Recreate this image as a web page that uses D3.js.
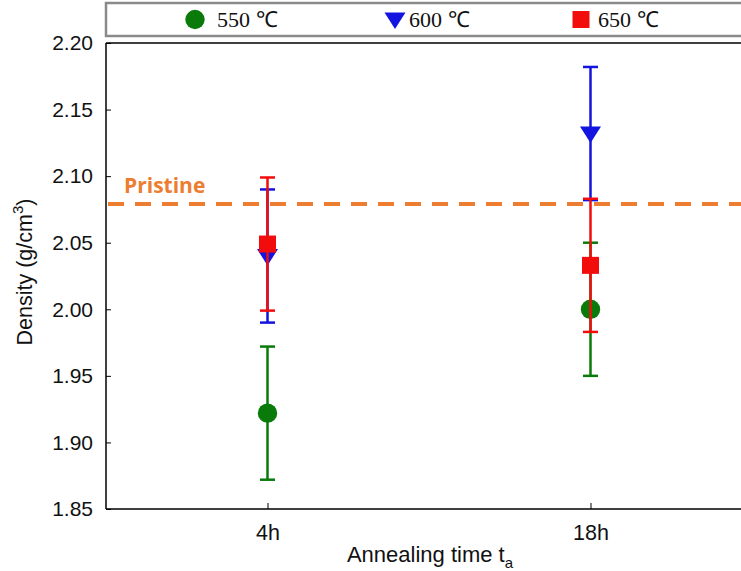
<!DOCTYPE html>
<html><head><meta charset="utf-8">
<script src="https://cdn.jsdelivr.net/npm/d3@7"></script>
<style>body{margin:0;background:#fff;} svg{display:block;}</style>
</head><body>
<svg id="c" width="741" height="571"></svg>
<script>
const categories = ["4h", "18h"];
const seriesNames = ["550 ℃", "600 ℃", "650 ℃"];
const values550 = [1.922, 2.000];
const values600 = [2.040, 2.132];
const values650 = [2.049, 2.033];
const errors550 = [0.05, 0.05];
const errors600 = [0.05, 0.05];
const errors650 = [0.05, 0.05];
const pristine = 2.079;
const yTicks = [1.85, 1.90, 1.95, 2.00, 2.05, 2.10, 2.15, 2.20];

const series = [
  {name: seriesNames[0], values: values550, errors: errors550, color: "#0a7a0a", shape: "circle"},
  {name: seriesNames[1], values: values600, errors: errors600, color: "#1414e0", shape: "tri"},
  {name: seriesNames[2], values: values650, errors: errors650, color: "#f20c0c", shape: "square"}
];

const svg = d3.select("#c");
const L = 106, T = 43, B = 509, R = 752;
const x = d3.scalePoint().domain(categories).range([L, R]).padding(0.5);
const y = d3.scaleLinear().domain([1.85, 2.20]).range([B, T]);
const sans = "Liberation Sans, Arial, sans-serif";

// legend box
const lg = svg.append("g");
lg.append("rect").attr("x", 106).attr("y", 3).attr("width", 700).attr("height", 33)
  .attr("fill", "#fff").attr("stroke", "#8a8a8a").attr("stroke-width", 2.5);
const legX = [195, 395, 581];
const legTX = [217, 409, 598];
function marker(g, shape, cx, cy, color) {
  if (shape === "circle") g.append("circle").attr("cx", cx).attr("cy", cy).attr("r", 9.7).attr("fill", color);
  else if (shape === "tri") g.append("path").attr("d", `M${cx-10.5},${cy-7}L${cx+10.5},${cy-7}L${cx},${cy+9.5}Z`).attr("fill", color);
  else g.append("rect").attr("x", cx-8.5).attr("y", cy-8.5).attr("width", 17).attr("height", 17).attr("fill", color);
}
series.forEach((s, i) => {
  marker(lg, s.shape, legX[i], 19.5, s.color);
  lg.append("text").attr("x", legTX[i]).attr("y", 27)
    .attr("font-family", "Liberation Serif, serif").attr("font-size", 22).attr("fill", "#111").text(s.name);
});

// axes
svg.append("line").attr("x1", L).attr("x2", L).attr("y1", T).attr("y2", B).attr("stroke", "#000").attr("stroke-width", 1.5);
svg.append("line").attr("x1", L).attr("x2", 741).attr("y1", B).attr("y2", B).attr("stroke", "#000").attr("stroke-width", 1.5);
svg.append("line").attr("x1", L).attr("x2", 741).attr("y1", T).attr("y2", T).attr("stroke", "#000").attr("stroke-width", 1.5);

const yAxis = d3.axisLeft(y).tickValues(yTicks).tickFormat(d3.format(".2f")).tickSizeInner(-5).tickSizeOuter(0).tickPadding(13);
const ya = svg.append("g").attr("transform", `translate(${L},0)`).call(yAxis);
ya.select(".domain").remove();
ya.selectAll("text").attr("font-family", sans).attr("font-size", 21).attr("fill", "#111");
ya.selectAll("line").attr("stroke", "#000");

const xAxis = d3.axisBottom(x).tickSizeInner(-6).tickSizeOuter(0).tickPadding(16);
const xa = svg.append("g").attr("transform", `translate(0,${B})`).call(xAxis);
xa.select(".domain").remove();
xa.selectAll("text").attr("font-family", sans).attr("font-size", 21.5).attr("fill", "#111");
xa.selectAll("line").attr("stroke", "#000");

// axis titles
const xt = svg.append("text").attr("x", 430).attr("y", 562).attr("text-anchor", "middle")
  .attr("font-family", sans).attr("font-size", 22).attr("fill", "#111");
xt.append("tspan").text("Annealing time t");
xt.append("tspan").attr("font-size", 15).attr("dy", 6).text("a");

const yt = svg.append("text").attr("transform", "translate(32,272) rotate(-90)").attr("text-anchor", "middle")
  .attr("font-family", sans).attr("font-size", 21.5).attr("fill", "#111");
yt.append("tspan").text("Density (g/cm");
yt.append("tspan").attr("font-size", 15).attr("dy", -9).text("3");
yt.append("tspan").attr("dy", 9).text(")");

// pristine line
svg.append("line").attr("x1", L + 2).attr("x2", 741).attr("y1", y(pristine)).attr("y2", y(pristine))
  .attr("stroke", "#ED7D31").attr("stroke-width", 4).attr("stroke-dasharray", "16,11");
svg.append("text").attr("x", 124).attr("y", 193).attr("font-family", "Open Sans, Liberation Sans, sans-serif")
  .attr("font-weight", "bold").attr("font-size", 21).attr("fill", "#ED7D31").text("Pristine");

// data
series.forEach(s => {
  const g = svg.append("g");
  categories.forEach((c, i) => {
    const cx = x(c), v = s.values[i], e = s.errors[i];
    g.append("line").attr("x1", cx).attr("x2", cx).attr("y1", y(v + e)).attr("y2", y(v - e)).attr("stroke", s.color).attr("stroke-width", 2.5);
    [v + e, v - e].forEach(w => g.append("line").attr("x1", cx - 7.5).attr("x2", cx + 7.5).attr("y1", y(w)).attr("y2", y(w)).attr("stroke", s.color).attr("stroke-width", 2.5));
    marker(g, s.shape, cx, y(v), s.color);
  });
});
</script>
</body></html>
